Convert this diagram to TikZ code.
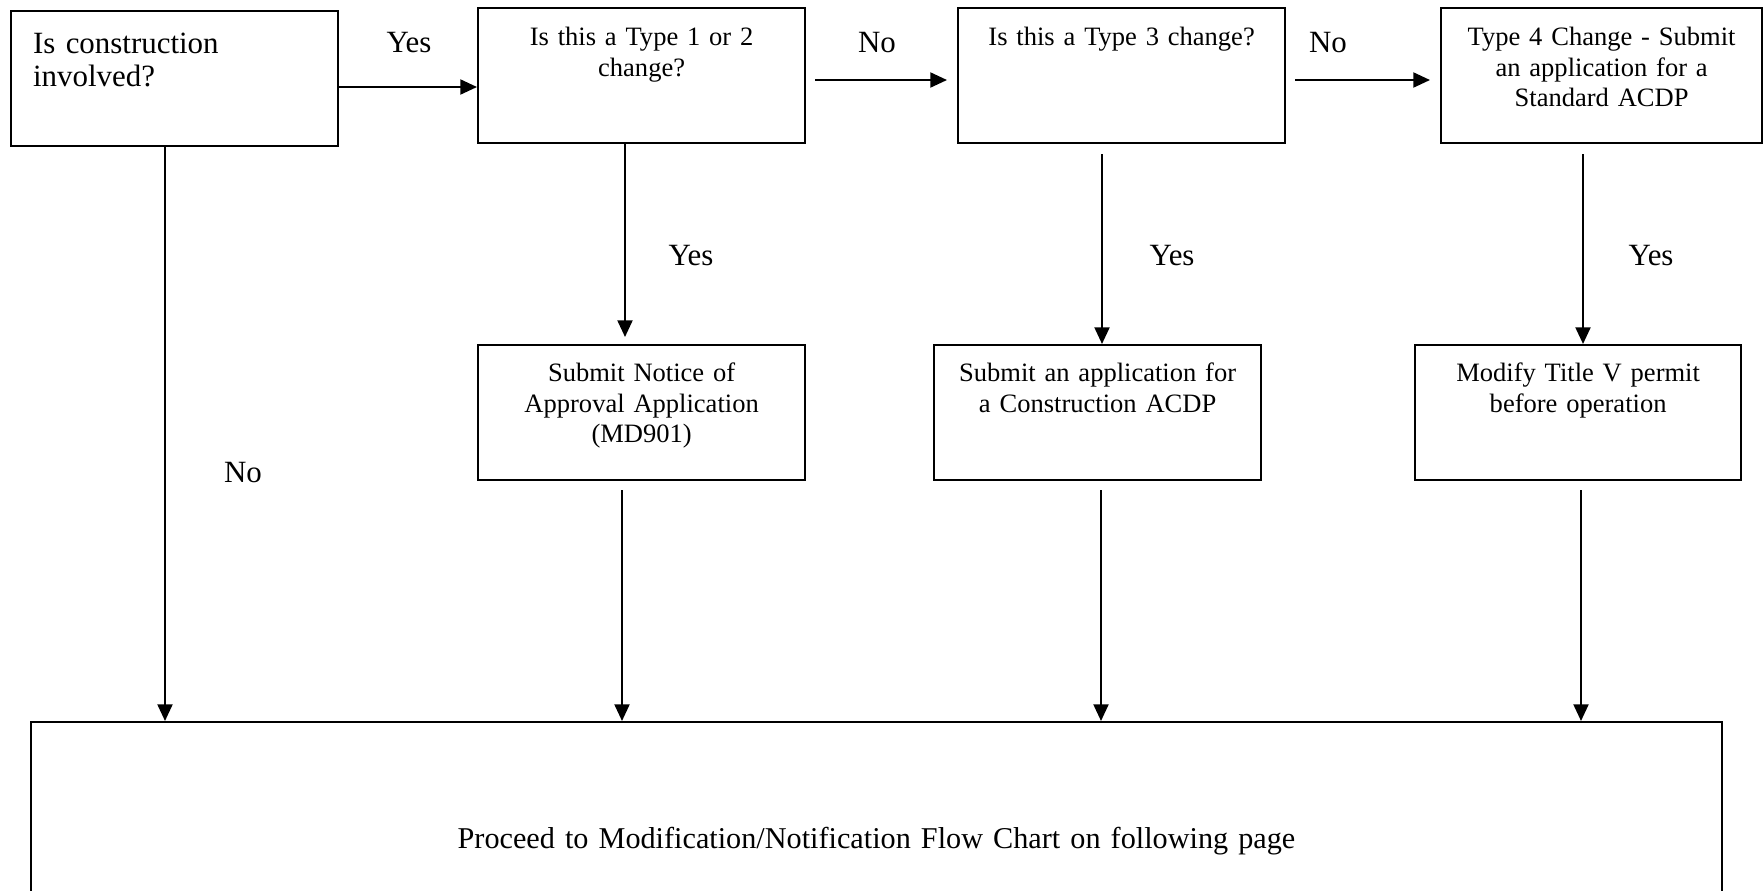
\documentclass[tikz,border=0pt]{standalone}
\usepackage{fontspec}
\setmainfont{Liberation Serif}
\usetikzlibrary{arrows.meta}

\tikzset{
  box/.style={draw, line width=1.3pt, anchor=north west, inner xsep=0pt, inner ysep=0pt,
    align=center, text width=6.54cm, text height=0.74cm, text depth=1.96cm,
    font=\fontsize{15.1}{17.6}\selectfont},
  lbl/.style={anchor=base, font=\fontsize{17.6}{18.8}\selectfont},
  arr/.style={line width=1.3pt, -{Triangle[length=9.5pt,width=8.5pt]}},
}

\begin{document}
\begin{tikzpicture}[x=0.02cm, y=-0.02cm]
\useasboundingbox (0,0) rectangle (1763,890);

\node[box, align=left, inner xsep=0.44cm, text width=5.66cm, text height=0.84cm, text depth=1.86cm,
  font=\fontsize{17.6}{18.8}\selectfont] (q1) at (10,10) {Is construction\\involved?};
\node[box] (q2) at (477,7) {Is this a Type 1 or 2\\change?};
\node[box] (q3) at (957,7) {Is this a Type 3 change?};
\node[box, text width=6.42cm] (q4) at (1440,7) {Type 4 Change - Submit\\an application for a\\Standard ACDP};

\node[box, text height=0.72cm, text depth=1.98cm] (a2) at (477,344) {Submit Notice of\\Approval Application\\(MD901)};
\node[box, text height=0.72cm, text depth=1.98cm] (a3) at (933,344) {Submit an application for\\a Construction ACDP};
\node[box, text width=6.52cm, text height=0.72cm, text depth=1.98cm] (a4) at (1414,344) {Modify Title V permit\\before operation};

\node[box, text width=33.82cm, text height=2.52cm, text depth=1.48cm,
  font=\fontsize{17.2}{18.8}\selectfont] (fin) at (30,721) {Proceed to Modification/Notification Flow Chart on following page};

\node[lbl] (y1) at (409,52) {Yes};
\node[lbl] (n1) at (877,52) {No};
\node[lbl] (n2) at (1328,52) {No};
\node[lbl] (y2) at (691,265) {Yes};
\node[lbl] (y3) at (1172,265) {Yes};
\node[lbl] (y4) at (1651,265) {Yes};
\node[lbl] (n0) at (243,482) {No};

\draw[arr] (q1.east |- 0,87) -- (q2.west |- 0,87);
\draw[arr, shorten <=0.18cm, shorten >=0.2cm] (q2.east |- 0,80) -- (q3.west |- 0,80);
\draw[arr, shorten <=0.18cm, shorten >=0.2cm] (q3.east |- 0,80) -- (q4.west |- 0,80);

\draw[arr] (q1.south -| 165,0) -- (fin.north -| 165,0);
\draw[arr, shorten >=0.14cm] (q2.south -| 625,0) -- (a2.north -| 625,0);
\draw[arr, shorten <=0.2cm] (q3.south -| 1102,0) -- (a3.north -| 1102,0);
\draw[arr, shorten <=0.2cm] (q4.south -| 1583,0) -- (a4.north -| 1583,0);

\draw[arr, shorten <=0.18cm] (a2.south -| 622,0) -- (fin.north -| 622,0);
\draw[arr, shorten <=0.18cm] (a3.south -| 1101,0) -- (fin.north -| 1101,0);
\draw[arr, shorten <=0.18cm] (a4.south -| 1581,0) -- (fin.north -| 1581,0);
\end{tikzpicture}
\end{document}
